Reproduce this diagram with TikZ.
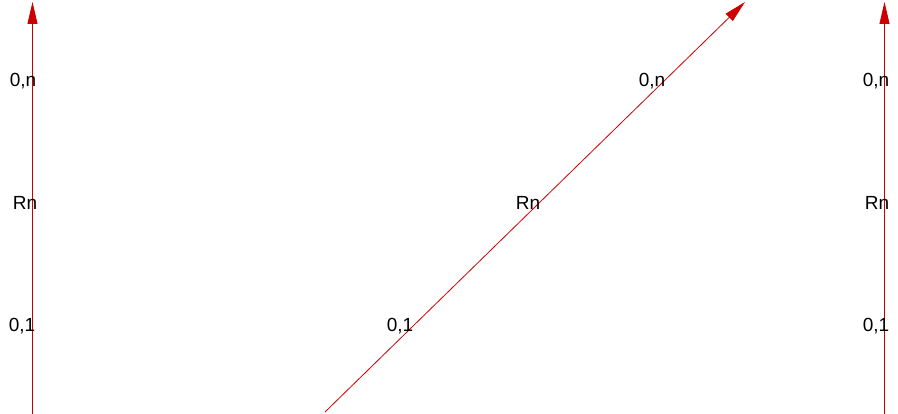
\documentclass[tikz,border=0pt]{standalone}
\usepackage{fontspec}
\setmainfont{Liberation Sans}
\usetikzlibrary{arrows.meta}
\definecolor{arr}{RGB}{204,0,0}
\begin{document}
\begin{tikzpicture}[x=1pt,y=-1pt,
  conn/.style={draw=arr,line width=0.8pt,-{Triangle[length=22pt,width=10pt]}},
  lbl/.style={font=\fontsize{19}{22}\selectfont,inner sep=0pt,text=black}]
\useasboundingbox (0,0) rectangle (898,414);
\coordinate (a1) at (32.5,414);
\coordinate (a2) at (32.5,2);
\coordinate (b1) at (325,412);
\coordinate (b2) at (745,2);
\coordinate (c1) at (884.5,414);
\coordinate (c2) at (884.5,2);
\draw[conn] (a1) -- (a2);
\draw[conn] (b1) -- (b2);
\draw[conn] (c1) -- (c2);
\node[lbl] (l1) at (23,81) {0,n};
\node[lbl] (l2) at (25,203) {Rn};
\node[lbl] (l3) at (22,326) {0,1};
\node[lbl] (m1) at (652,81) {0,n};
\node[lbl] (m2) at (528,203) {Rn};
\node[lbl] (m3) at (400,326) {0,1};
\node[lbl] (r1) at (876,81) {0,n};
\node[lbl] (r2) at (877,203) {Rn};
\node[lbl] (r3) at (876,326) {0,1};
\end{tikzpicture}
\end{document}
